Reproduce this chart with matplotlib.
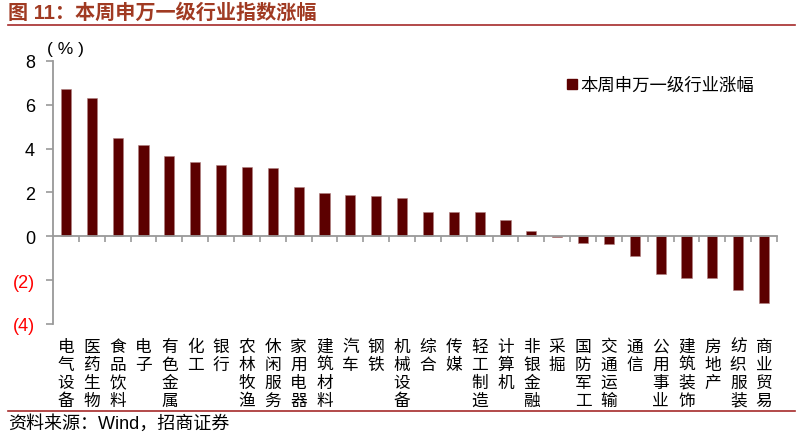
import matplotlib
matplotlib.use('Agg')
import matplotlib.pyplot as plt
from matplotlib.lines import Line2D

plt.rcParams['font.family'] = ['Liberation Sans', 'Noto Sans CJK SC']

# 行业与本周涨幅（%）
industries = ['电气设备', '医药生物', '食品饮料', '电子', '有色金属', '化工', '银行',
              '农林牧渔', '休闲服务', '家用电器', '建筑材料', '汽车', '钢铁', '机械设备',
              '综合', '传媒', '轻工制造', '计算机', '非银金融', '采掘', '国防军工',
              '交通运输', '通信', '公用事业', '建筑装饰', '房地产', '纺织服装', '商业贸易']
changes = [6.70, 6.29, 4.47, 4.17, 3.67, 3.41, 3.27, 3.15, 3.12, 2.27, 1.99, 1.88,
           1.85, 1.77, 1.10, 1.09, 1.09, 0.76, 0.23, -0.02, -0.30, -0.33, -0.88,
           -1.73, -1.92, -1.92, -2.45, -3.03]
y_ticks = [-4, -2, 0, 2, 4, 6, 8]

bar_color = '#5C0000'
title_color = '#A03A22'
line_color = '#A52A2A'
axis_color = '#999999'

fig = plt.figure(figsize=(8.09, 4.35), dpi=100)
ax = fig.add_axes([0.0655, 0.2529, 0.895, 0.6046])

x = list(range(len(industries)))
ax.bar(x, changes, width=0.39, color=bar_color, edgecolor='#B08080', linewidth=0.4)

ax.set_xlim(-0.5, len(industries) - 0.5)
ax.set_ylim(-4, 8)

# 坐标轴
for s in ['top', 'right']:
    ax.spines[s].set_visible(False)
ax.spines['left'].set_color(axis_color)
ax.spines['left'].set_linewidth(1.3)
ax.spines['bottom'].set_position(('data', 0))
ax.spines['bottom'].set_color(axis_color)
ax.spines['bottom'].set_linewidth(1.3)

ax.set_xticks([i + 0.5 for i in range(len(industries))])
ax.set_xticklabels([])
ax.tick_params(axis='x', direction='out', length=4, width=1.2, color=axis_color)

ax.set_yticks(y_ticks)
ax.set_yticklabels([str(v) if v >= 0 else '(%d)' % abs(v) for v in y_ticks], fontsize=13)
for lab, v in zip(ax.get_yticklabels(), y_ticks):
    if v < 0:
        lab.set_color('red')
ax.tick_params(axis='y', direction='out', length=5, width=1.2, color=axis_color, pad=8)

# 竖排行业名称
for i, name in enumerate(industries):
    ax.text(i, -0.052, '\n'.join(name), transform=ax.get_xaxis_transform(),
            ha='center', va='top', fontsize=12, linespacing=1.08,
            family=['Noto Sans CJK SC'])

ax.text(0.0, 8.55, '( % )', fontsize=12.5, ha='center', va='center')

# 图例
leg_handle = Line2D([], [], marker='s', linestyle='none', color=bar_color, markersize=7)
ax.legend([leg_handle], ['本周申万一级行业涨幅'], loc='upper right',
          bbox_to_anchor=(0.99, 1.0), frameon=False, fontsize=12.5,
          handletextpad=0.1, handlelength=0.8)

# 标题与来源
fig.text(0.010, 0.970, '图 11：本周申万一级行业指数涨幅', fontsize=14.5, fontweight='bold',
         color=title_color, ha='left', va='center')
fig.add_artist(Line2D([0.010, 0.983], [0.940, 0.940], transform=fig.transFigure,
                      color=line_color, linewidth=1.2))
fig.add_artist(Line2D([0.010, 0.983], [0.052, 0.052], transform=fig.transFigure,
                      color=line_color, linewidth=1.2))
fig.text(0.010, 0.025, '资料来源：Wind，招商证券', fontsize=13, ha='left', va='center')

fig.savefig('out.png', dpi=100)
